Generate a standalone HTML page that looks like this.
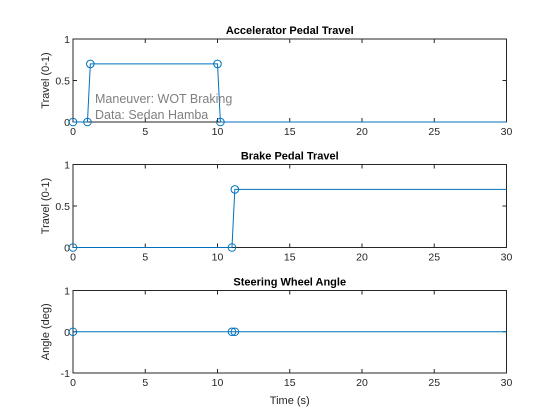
<!DOCTYPE html>
<html><head><meta charset="utf-8"><style>
body{margin:0;background:#fff;}
svg{display:block;font-family:"Liberation Sans",Arial,sans-serif;}
</style></head><body>
<svg id="fig" width="560" height="420"></svg>
<script>
const xTicks=[0,5,10,15,20,25,30];
const accelT=[0,1,1.2,10,10.2,30];
const accelV=[0,0,0.7,0.7,0,0];
const accelMarkers=[1,1,1,1,1,0];
const brakeT=[0,11,11.2,30];
const brakeV=[0,0,0.7,0.7];
const brakeMarkers=[1,1,1,0];
const steerT=[0,11,11.2,30];
const steerV=[0,0,0,0];
const steerMarkers=[1,1,1,0];
const NS="http://www.w3.org/2000/svg";
const svg=document.getElementById('fig');
function el(t,a,p){const e=document.createElementNS(NS,t);for(const k in a)e.setAttribute(k,a[k]);(p||svg).appendChild(e);return e;}
const X0=73,X1=506.5;
function plot(cfg){
  const g=el('g',{});
  
  
  const {top,bot,ymin,ymax,yticks,ylabels}=cfg;
  const sx=v=>X0+(v-0)/30*(X1-X0);
  const sy=v=>bot-(v-ymin)/(ymax-ymin)*(bot-top);
  const ax=el('rect',{x:X0,y:top,width:X1-X0,height:bot-top,fill:'#fff',stroke:'#262626','stroke-width':1},g);
  
  xTicks.forEach(t=>{
    el('line',{x1:sx(t),x2:sx(t),y1:bot,y2:bot-4,stroke:'#262626'},g);
    el('line',{x1:sx(t),x2:sx(t),y1:top,y2:top+4,stroke:'#262626'},g);
    const tx=el('text',{x:sx(t),y:bot+13,'font-size':10.5,fill:'#262626','text-anchor':'middle'},g);tx.textContent=t;
    
  });
  yticks.forEach((t,i)=>{
    el('line',{x1:X0,x2:X0+4,y1:sy(t),y2:sy(t),stroke:'#262626'},g);
    el('line',{x1:X1,x2:X1-4,y1:sy(t),y2:sy(t),stroke:'#262626'},g);
    const tx=el('text',{x:X0-3,y:sy(t)+4,'font-size':10.5,fill:'#262626','text-anchor':'end'},g);tx.textContent=ylabels[i];
    
  });
  const ti=el('text',{x:(X0+X1)/2,y:top-5,'font-size':11,'font-weight':'bold',fill:'#000','text-anchor':'middle'},g);ti.textContent=cfg.title;
  
  const yl=el('text',{x:0,y:0,'font-size':11,fill:'#262626','text-anchor':'middle',transform:`translate(49,${(top+bot)/2}) rotate(-90)`},g);yl.textContent=cfg.ylabel;
  
  const pts=cfg.t.map((t,i)=>sx(t)+','+sy(cfg.v[i])).join(' ');
  const ln=el('polyline',{points:pts,fill:'none',stroke:'#0072bd','stroke-width':1},g);
  
  cfg.t.forEach((t,i)=>{if(!cfg.m[i])return;
    const c=el('circle',{cx:sx(t),cy:sy(cfg.v[i]),r:3.8,fill:'none',stroke:'#0072bd','stroke-width':1},g);
    
  });
  return {g,sx,sy};
}
const p1=plot({name:'accelerator-plot',top:39,bot:122,ymin:0,ymax:1,yticks:[0,0.5,1],ylabels:['0','0.5','1'],title:'Accelerator Pedal Travel',ylabel:'Travel (0-1)',t:accelT,v:accelV,m:accelMarkers});
const a1=el('text',{x:95,y:103,'font-size':12.5,fill:'#808080'});a1.textContent='Maneuver: WOT Braking';

const a2=el('text',{x:95,y:119,'font-size':12.5,fill:'#808080'});a2.textContent='Data: Sedan Hamba';

plot({name:'brake-plot',top:164.5,bot:247.5,ymin:0,ymax:1,yticks:[0,0.5,1],ylabels:['0','0.5','1'],title:'Brake Pedal Travel',ylabel:'Travel (0-1)',t:brakeT,v:brakeV,m:brakeMarkers});
plot({name:'steering-plot',top:290.5,bot:373,ymin:-1,ymax:1,yticks:[-1,0,1],ylabels:['-1','0','1'],title:'Steering Wheel Angle',ylabel:'Angle (deg)',t:steerT,v:steerV,m:steerMarkers});
const xl=el('text',{x:(X0+X1)/2,y:404,'font-size':11,fill:'#262626','text-anchor':'middle'});xl.textContent='Time (s)';

</script>
</body></html>
